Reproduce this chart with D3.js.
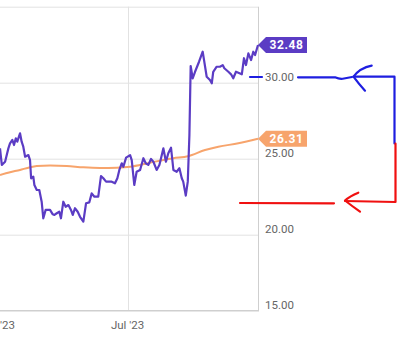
<!DOCTYPE html>
<html>
<head>
<meta charset="utf-8">
<script src="https://cdn.jsdelivr.net/npm/d3@7"></script>
<style>
  body { margin: 0; background: #fff; }
  svg { display: block; font-family: Roboto, "Noto Sans", sans-serif; }
</style>
</head>
<body>
<script>
// price series (purple)
const priceDates = [
  "06-01 19","06-02 05","06-02 23","06-03 17","06-04 02","06-04 15","06-05 00","06-05 10","06-05 18","06-06 09",
  "06-06 18","06-07 03","06-07 13","06-08 07","06-08 16","06-08 22","06-09 10","06-09 16","06-10 05","06-10 19",
  "06-11 08","06-11 17","06-12 06","06-13 06","06-13 21","06-14 06","06-14 19","06-15 09","06-15 18","06-16 07",
  "06-16 20","06-17 11","06-18 01","06-18 11","06-18 23","06-19 14","06-20 03","06-20 21","06-21 12","06-22 06",
  "06-22 19","06-23 10","06-24 07","06-24 22","06-25 11","06-26 02","06-27 09","06-28 03","06-28 16","06-29 03",
  "06-29 16","06-30 01","06-30 16","07-01 14","07-01 23","07-02 13","07-03 02","07-03 21","07-04 15","07-05 04",
  "07-05 18","07-06 09","07-06 22","07-07 16","07-08 07","07-08 16","07-09 05","07-09 19","07-10 08","07-10 23",
  "07-11 12","07-12 06","07-12 21","07-13 10","07-13 18","07-14 08","07-14 19","07-15 04","07-15 11","07-15 22",
  "07-16 11","07-17 09","07-18 05","07-19 03","07-19 21","07-20 07","07-20 15","07-21 10","07-22 04","07-22 19",
  "07-23 04","07-24 02","07-24 17","07-25 05","07-25 20","07-26 09","07-27 04","07-27 16","07-28 03","07-28 16",
  "07-29 07","07-29 19","07-30 05","07-30 21"
];
const priceValues = [
  25.68,24.59,24.80,25.68,26.01,26.23,25.90,26.34,26.12,26.67,
  26.12,25.79,25.13,25.24,24.91,23.71,23.82,23.27,22.94,22.94,
  22.17,21.08,21.63,21.63,21.34,21.30,21.41,21.51,21.08,22.17,
  21.84,21.95,21.63,21.30,21.74,21.51,21.18,20.86,22.07,22.13,
  22.72,22.50,22.50,23.86,23.71,23.49,23.49,23.38,23.71,24.26,
  24.70,24.47,25.07,25.24,24.91,23.27,24.14,24.26,25.03,24.70,
  24.59,24.98,24.80,24.26,24.59,25.03,25.68,24.80,25.36,25.72,
  24.26,24.14,24.37,23.71,23.49,22.57,23.49,26.56,31.10,30.29,
  30.72,31.38,32.04,30.39,30.18,29.96,30.72,31.05,31.05,31.16,
  30.95,30.72,30.55,30.29,30.72,30.66,30.55,31.61,31.16,31.93,
  31.49,32.04,31.82,32.48
];

// moving average (orange)
const avgDates = [
  "06-01 19","06-04 02","06-06 09","06-08 07","06-10 05","06-13 06","06-17 02","06-20 21","06-24 17",
  "06-28 12","07-01 14","07-06 04","07-11 12","07-14 20","07-18 18","07-21 19","07-26 09","07-30 21"
];
const avgValues = [
  23.93,24.11,24.26,24.41,24.52,24.55,24.52,24.43,24.39,
  24.41,24.47,24.74,25.03,25.16,25.57,25.79,26.01,26.31
];

const yTicks = [15, 20, 25, 30];
const xTickDates = ["06-01 00", "07-01 00"];
const xTickLabels = ["Jun '23", "Jul '23"];

const purple = "#5b3cc4";
const orange = "#f7a46c";

const W = 397, H = 344;
const plotW = 258, plotTop = 6.7, plotBottom = 310.7;

const parse = s => d3.timeParse("%Y-%m-%d %H")("2023-" + s);

const price = priceDates.map((d, i) => ({ date: parse(d), value: priceValues[i] }));
const avg = avgDates.map((d, i) => ({ date: parse(d), value: avgValues[i] }));

const svg = d3.select("body").append("svg").attr("width", W).attr("height", H);

const x = d3.scaleTime()
  .domain([parse("06-01 19"), parse("07-30 21")])
  .range([0, plotW]);
const y = d3.scaleLinear().domain([15, 35]).range([plotBottom, plotTop]);

// grid
svg.append("g").selectAll("line")
  .data([20, 25, 30, 35])
  .join("line")
  .attr("x1", 0).attr("x2", plotW)
  .attr("y1", d => y(d) + 0.5).attr("y2", d => y(d) + 0.5)
  .attr("stroke", "#e2e2e2");

svg.append("g").selectAll("line")
  .data(xTickDates)
  .join("line")
  .attr("x1", d => Math.round(x(parse(d))) + 0.5).attr("x2", d => Math.round(x(parse(d))) + 0.5)
  .attr("y1", plotTop).attr("y2", plotBottom)
  .attr("stroke", "#e2e2e2");

// right border and bottom axis line
svg.append("line")
  .attr("x1", plotW + 0.5).attr("x2", plotW + 0.5)
  .attr("y1", plotTop).attr("y2", plotBottom)
  .attr("stroke", "#cfcfcf");
svg.append("line")
  .attr("x1", 0).attr("x2", plotW + 1)
  .attr("y1", plotBottom).attr("y2", plotBottom)
  .attr("stroke", "#cfcfcf").attr("stroke-width", 1.5);

// y labels
svg.append("g").selectAll("text")
  .data(yTicks)
  .join("text")
  .attr("x", 265)
  .attr("y", d => y(d) - 2)
  .attr("font-size", 11.5)
  .attr("fill", "#666")
  .text(d3.format(".2f"));

// x labels
svg.append("g").selectAll("text")
  .data(xTickDates)
  .join("text")
  .attr("x", d => x(parse(d)))
  .attr("y", 329)
  .attr("text-anchor", "middle")
  .attr("font-size", 11.5)
  .attr("fill", "#666")
  .text((d, i) => xTickLabels[i]);

const line = d3.line().x(d => x(d.date)).y(d => y(d.value));

svg.append("path")
  .datum(avg)
  .attr("d", line.curve(d3.curveMonotoneX))
  .attr("fill", "none")
  .attr("stroke", orange)
  .attr("stroke-width", 2);

svg.append("path")
  .datum(price)
  .attr("d", line.curve(d3.curveLinear))
  .attr("fill", "none")
  .attr("stroke", purple)
  .attr("stroke-width", 2.2)
  .attr("stroke-linejoin", "round");

// end labels
function endLabel(v, color) {
  const cy = y(v);
  const g = svg.append("g");
  g.append("path")
    .attr("d", `M${plotW},${cy} L266,${cy - 8} L307,${cy - 8} L307,${cy + 8} L266,${cy + 8} Z`)
    .attr("fill", color);
  g.append("text")
    .attr("x", 286.5).attr("y", cy)
    .attr("dy", "0.36em")
    .attr("text-anchor", "middle")
    .attr("font-size", 12)
    .attr("font-weight", "bold")
    .attr("letter-spacing", 0.6)
    .attr("fill", "#fff")
    .text(d3.format(".2f")(v));
}
endLabel(priceValues[priceValues.length - 1], purple);
endLabel(avgValues[avgValues.length - 1], orange);

// hand drawn annotations
const ann = svg.append("g").attr("fill", "none").attr("stroke-width", 2.2)
  .attr("stroke-linecap", "round").attr("stroke-linejoin", "round");
const blue = "#1e1ee0", red = "#f01010";
ann.append("path").attr("stroke", blue).attr("d", "M250,77 L262,77");
ann.append("path").attr("stroke", blue)
  .attr("d", "M298,77.3 L335,77.3 Q340,79.5 344,78.5 L352,77");
ann.append("path").attr("stroke", blue)
  .attr("d", "M371.7,65.7 Q360,68 353.5,76.7 Q358,83 365,90.7");
ann.append("path").attr("stroke", blue)
  .attr("d", "M353.5,76.7 L394.5,76.7 L394.5,143.5");
ann.append("path").attr("stroke", red)
  .attr("d", "M395.5,143.5 L395.5,202 L345,201");
ann.append("path").attr("stroke", red)
  .attr("d", "M358.3,192.7 Q350,196 345,200.5 Q352,206 360,211.7");
ann.append("path").attr("stroke", red)
  .attr("d", "M240,203 L334,203.3");
</script>
</body>
</html>
